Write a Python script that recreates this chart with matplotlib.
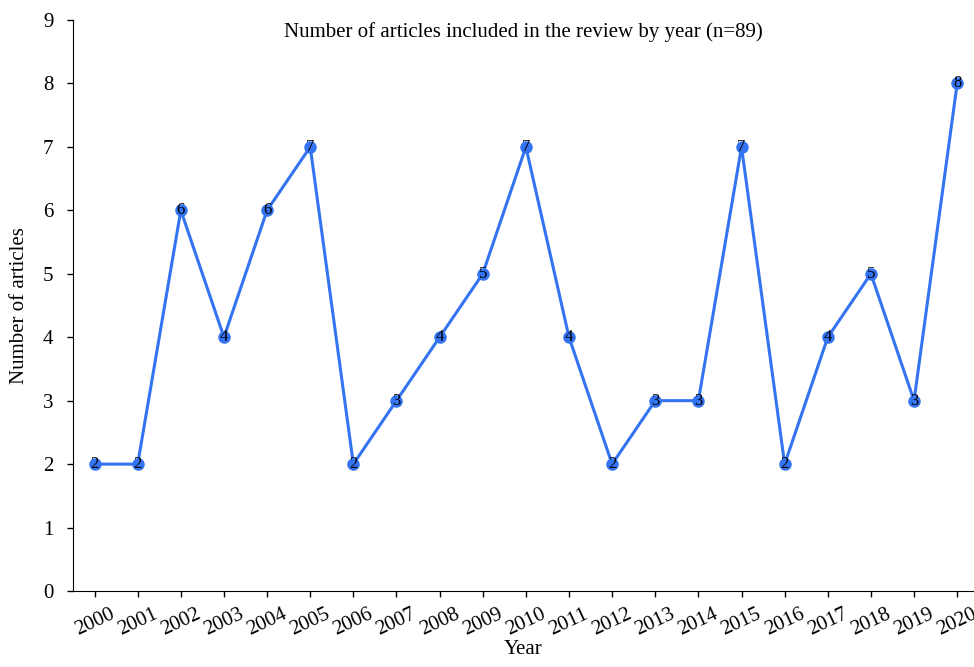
import numpy as np
import matplotlib.pyplot as plt

plt.rcParams['font.family'] = ['Liberation Serif', 'DejaVu Serif']

# Data
years = [str(y) for y in range(2000, 2021)]
articles = [2, 2, 6, 4, 6, 7, 2, 3, 4, 5, 7, 4, 2, 3, 3, 7, 2, 4, 5, 3, 8]

line_color = '#3474f2'

fig = plt.figure(figsize=(9.74, 6.67), dpi=100)
ax = fig.add_axes([73 / 974, 1 - 591 / 667, 1 - 73 / 974, (591 - 20) / 667])

x = np.arange(len(years))
ax.plot(x, articles, color=line_color, linewidth=2.2, marker='o', markersize=8,
        markerfacecolor=line_color, markeredgecolor=line_color)

for xi, v in zip(x, articles):
    ax.text(xi, v, str(v), ha='center', va='center', fontsize=12, color='black')

ax.set_xlim(-0.5, 20.39)
ax.set_ylim(0, 9)
ax.set_yticks(range(0, 10))
ax.set_xticks(x)
ax.set_xticklabels(years, rotation=25, ha='center')
ax.tick_params(axis='both', direction='out', labelsize=15, length=4, width=1)
ax.tick_params(axis='y', pad=10)
ax.tick_params(axis='x', pad=6)

ax.spines['top'].set_visible(False)
ax.spines['right'].set_visible(False)

ax.set_xlabel('Year', fontsize=15, labelpad=0)
ax.set_ylabel('Number of articles', fontsize=15, labelpad=10)
ax.set_title('Number of articles included in the review by year (n=89)',
             fontsize=15, y=0.955)

fig.savefig('out.png', dpi=100)
